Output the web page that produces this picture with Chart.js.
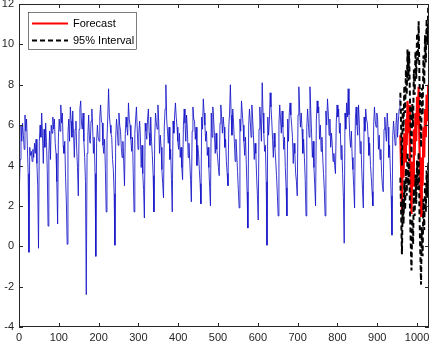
<!DOCTYPE html>
<html><head><meta charset="utf-8">
<script src="https://cdn.jsdelivr.net/npm/chart.js@4/dist/chart.umd.min.js"></script>
<style>html,body{margin:0;padding:0;background:#fff;}canvas{display:block;}</style>
</head><body>
<canvas id="c" width="430" height="346"></canvas>
<script>
// ---- data ----
const histStart = 1;
const histStep = 2;
const histValues = [
 2.9, 4.3, 6.0, 5.2, 6.1, 5.5, 4.8, 6.5, 5.7, 6.3, 5.0, 3.6,
 -0.3, 4.9, 4.5, 4.7, 4.2, 4.8, 4.4, 5.1, 4.6, 5.3, 4.1, 3.0,
 -0.1, 5.2, 6.0, 5.4, 6.6, 5.5, 4.1, 5.8, 4.9, 6.1, 5.2, 3.8,
 1.0, 4.6, 5.7, 4.3, 6.0, 5.6, 6.4, 5.8, 6.3, 5.1, 4.6, 3.2,
 1.1, 5.4, 6.3, 5.7, 7.0, 6.1, 6.6, 5.0, 4.6, 5.2, 3.4, 2.2,
 0.1, 5.6, 6.3, 5.2, 6.9, 6.2, 5.4, 6.7, 5.6, 4.4, 5.8, 6.2, 4.8, 3.9,
 2.5, 5.8, 6.8, 7.2, 6.1, 5.8, 6.6, 5.2, 4.4, 3.2,
 -2.4, 4.6, 5.5, 6.5, 5.3, 5.1, 6.2, 6.8, 5.9, 4.6, 5.4, 3.6,
 -0.5, 5.2, 6.0, 5.4, 5.2, 6.4, 7.0, 6.2, 6.1, 5.0, 4.6, 5.3, 3.8,
 1.7, 5.3, 6.4, 7.8, 6.5, 6.0, 5.6, 5.4, 4.3, 3.8, 2.6,
 0.05, 5.4, 6.3, 5.8, 5.0, 6.6, 6.0, 5.7, 4.9, 4.4, 5.2, 4.2,
 3.0, 5.6, 6.4, 5.9, 5.5, 7.1, 6.3, 6.0, 5.3, 4.7, 5.4, 3.6,
 1.7, 5.6, 6.3, 6.9, 5.8, 4.8, 5.6, 6.2, 5.4, 3.9, 5.0, 3.6, 2.8,
 1.4, 6.1, 5.7, 5.3, 6.3, 6.8, 5.6, 5.0, 6.4, 5.2, 4.5, 3.5,
 1.7, 5.4, 6.6, 6.1, 5.8, 7.0, 6.2, 4.6, 5.5, 4.9, 3.8, 3.1,
 2.4, 5.9, 6.8, 8.0, 6.3, 5.7, 5.1, 5.9, 4.3, 4.8, 3.3,
 1.7, 6.2, 5.6, 6.5, 7.1, 6.4, 5.9, 5.2, 4.8, 5.6, 4.4, 4.9, 3.9,
 3.3, 6.0, 6.8, 6.1, 5.2, 6.5, 5.8, 4.4, 5.1, 4.2, 3.3,
 2.2, 5.7, 6.9, 6.3, 6.2, 5.3, 5.9, 4.0, 5.0, 4.6, 3.8, 3.1,
 2.1, 6.4, 5.8, 7.3, 6.6, 6.0, 5.2, 5.7, 4.5, 4.9, 3.9, 2.9,
 2.0, 6.6, 5.4, 6.9, 6.3, 5.5, 4.6, 5.6, 4.8, 4.4, 3.9,
 3.5, 6.1, 7.0, 6.4, 5.6, 6.4, 5.9, 4.9, 5.3, 4.2, 3.6,
 3.0, 5.9, 6.6, 8.0, 6.5, 5.5, 6.8, 6.1, 5.2, 4.2, 5.3, 4.6, 3.7, 2.8,
 1.9, 6.3, 5.7, 7.2, 6.6, 6.0, 5.2, 4.5, 5.4, 4.1, 2.7,
 0.9, 6.0, 6.8, 6.2, 5.4, 7.0, 6.3, 5.5, 4.3, 5.1, 4.6, 3.4, 2.5,
 1.3, 5.8, 6.9, 6.1, 5.2, 8.1, 6.6, 5.6, 4.7, 5.0, 3.2,
 0.05, 6.4, 5.5, 6.2, 7.6, 6.9, 6.2, 5.3, 4.4, 5.6, 4.9, 4.2, 3.5, 2.6,
 1.5, 6.0, 7.0, 6.3, 5.6, 6.7, 5.9, 4.8, 5.4, 3.9, 2.9,
 1.5, 6.3, 5.2, 6.6, 7.1, 6.5, 6.0, 5.4, 4.1, 5.1, 4.6, 3.6, 3.2,
 2.5, 6.5, 7.9, 6.8, 5.9, 6.6, 5.8, 4.6, 5.3, 4.4, 3.3,
 1.5, 5.9, 6.8, 6.1, 5.4, 7.9, 6.7, 5.6, 4.4, 5.2, 3.9, 3.0,
 2.0, 6.2, 7.2, 6.6, 6.9, 5.3, 6.0, 4.7, 5.4, 4.4, 3.6, 2.8,
 1.5, 6.7, 6.0, 7.3, 6.6, 5.5, 6.3, 4.9, 5.6, 5.0, 4.2, 4.6, 4.0,
 3.6, 6.1, 7.0, 6.4, 6.8, 5.6, 6.1, 4.3, 5.0, 3.6, 2.4,
 0.15, 6.6, 5.8, 7.1, 6.4, 7.8, 6.5, 5.4, 4.9, 5.7, 4.4, 3.8, 2.9,
 1.9, 6.3, 6.9, 6.0, 5.5, 7.0, 6.1, 4.6, 5.2, 3.8, 2.8,
 1.9, 6.4, 5.7, 6.8, 6.3, 6.1, 5.4, 4.5, 5.1, 4.0, 3.4, 2.7,
 2.0, 6.0, 6.9, 6.2, 5.9, 6.6, 6.3, 4.8, 5.5, 4.3, 4.8, 3.6, 3.0,
 2.7, 5.8, 6.4, 5.7, 5.2, 6.6, 5.9, 4.4, 5.0, 3.7, 2.5,
 0.55, 5.5, 6.2, 5.6, 5.0, 6.0, 6.6, 5.4, 6.2, 6.8, 7.3
];
const fcStart = 958;
const fcStep = 2;
const forecastValues = [5.5, 3.8, 1.8, 4.6, 3.4, 5.6, 4.2, 6.3, 5.0, 7.2, 5.6, 7.0, 4.8, 3.0, 1.6, 4.2, 3.0, 5.8, 4.5, 6.6, 5.2, 7.4, 6.0, 7.9, 5.0, 3.2, 1.5, 4.4, 3.0, 5.9, 4.4, 6.8, 5.4, 7.5, 6.2, 8.0, 7.6];
const upperValues = [7.60, 5.95, 4.00, 6.85, 5.70, 7.95, 6.60, 8.75, 7.50, 9.75, 8.20, 9.65, 7.50, 5.75, 4.40, 7.05, 5.90, 8.75, 7.50, 9.65, 8.30, 10.55, 9.20, 11.15, 8.30, 6.55, 4.90, 7.85, 6.50, 9.45, 8.00, 10.45, 9.10, 11.25, 10.00, 11.85, 11.50];
const lowerValues = [3.40, 1.65, -0.40, 2.35, 1.10, 3.25, 1.80, 3.85, 2.50, 4.65, 3.00, 4.35, 2.10, 0.25, -1.20, 1.35, 0.10, 2.85, 1.50, 3.55, 2.10, 4.25, 2.80, 4.65, 1.70, -0.15, -1.90, 0.95, -0.50, 2.35, 0.80, 3.15, 1.70, 3.75, 2.40, 4.15, 3.70];
const xTicks = [0, 100, 200, 300, 400, 500, 600, 700, 800, 900, 1000];
const yTicks = [-4, -2, 0, 2, 4, 6, 8, 10, 12];
const legendLabels = ['Forecast', '95% Interval'];

// ---- build ----
const toPts = (start, step, vals) => vals.map((v, i) => ({x: start + i * step, y: v}));

Chart.defaults.font.family = '"Liberation Sans", Arial, Helvetica, sans-serif';
Chart.defaults.font.size = 11;
Chart.defaults.color = '#262626';

const framePlugin = {
  id: 'frame',
  afterDatasetsDraw(chart) {
    const {ctx, chartArea: a, scales: {x, y}} = chart;
    ctx.save();
    ctx.strokeStyle = '#262626';
    ctx.lineWidth = 1;
    ctx.setLineDash([]);
    ctx.beginPath();
    x.ticks.forEach(t => {
      const p = Math.round(x.getPixelForValue(t.value)) + 0.5;
      ctx.moveTo(p, a.bottom); ctx.lineTo(p, a.bottom - 4);
      ctx.moveTo(p, a.top); ctx.lineTo(p, a.top + 4);
    });
    y.ticks.forEach(t => {
      const p = Math.round(y.getPixelForValue(t.value)) + 0.5;
      ctx.moveTo(a.left, p); ctx.lineTo(a.left + 4, p);
      ctx.moveTo(a.right, p); ctx.lineTo(a.right - 4, p);
    });
    ctx.stroke();
    ctx.strokeRect(Math.round(a.left) + 0.5, Math.round(a.top) + 0.5,
                   Math.round(a.right - a.left) - 1, Math.round(a.bottom - a.top) - 1);

    // legend box
    const lx = 28.5, ly = 12.5, lw = 108, lh = 37;
    ctx.fillStyle = '#ffffff';
    ctx.fillRect(lx, ly, lw, lh);
    ctx.strokeStyle = '#262626';
    ctx.lineWidth = 0.6;
    ctx.strokeRect(lx, ly, lw, lh);
    const dsF = chart.data.datasets[1];
    const dsI = chart.data.datasets[2];
    const rows = [{ds: dsF, yy: 23.5, label: legendLabels[0]}, {ds: dsI, yy: 40.5, label: legendLabels[1]}];
    ctx.font = '11px "Liberation Sans", Arial, sans-serif';
    ctx.textBaseline = 'middle';
    ctx.textAlign = 'left';
    rows.forEach(r => {
      ctx.beginPath();
      ctx.strokeStyle = r.ds.borderColor;
      ctx.lineWidth = r.ds.borderWidth;
      ctx.setLineDash(r.ds.borderDash || []);
      ctx.moveTo(32, r.yy); ctx.lineTo(68, r.yy);
      ctx.stroke();
      ctx.setLineDash([]);
      ctx.fillStyle = '#000000';
      ctx.fillText(r.label, 73, r.yy + 0.5);
    });
    ctx.restore();
  }
};

new Chart(document.getElementById('c'), {
  type: 'line',
  data: {
    datasets: [
      {label: 'Observed', data: toPts(histStart, histStep, histValues), borderColor: 'rgb(20,20,200)', borderWidth: 0.85, pointRadius: 0, order: 4},
      {label: legendLabels[0], data: toPts(fcStart, fcStep, forecastValues), borderColor: '#ff0000', borderWidth: 2.2, pointRadius: 0, order: 3},
      {label: legendLabels[1], data: toPts(fcStart, fcStep, upperValues), borderColor: '#000000', borderWidth: 2, borderDash: [5, 3], pointRadius: 0, order: 1},
      {label: 'Lower', data: toPts(fcStart, fcStep, lowerValues), borderColor: '#000000', borderWidth: 2, borderDash: [5, 3], pointRadius: 0, order: 2}
    ]
  },
  options: {
    responsive: false,
    devicePixelRatio: 1,
    animation: false,
    events: [],
    layout: {padding: {top: 4, right: 1, left: 0, bottom: 0}},
    plugins: {legend: {display: false}, tooltip: {enabled: false}},
    elements: {line: {tension: 0}},
    scales: {
      x: {
        type: 'linear', min: 0, max: 1030,
        grid: {display: false, drawTicks: false},
        border: {display: false},
        ticks: {padding: 4, maxRotation: 0, autoSkip: false, includeBounds: false, callback: v => String(v)},
        afterBuildTicks: s => { s.ticks = xTicks.map(v => ({value: v})); },
        afterFit: s => { s.height = 19; s.paddingLeft = 0; s.paddingRight = 0; }
      },
      y: {
        type: 'linear', min: -4, max: 12,
        grid: {display: false, drawTicks: false},
        border: {display: false},
        ticks: {padding: 5, autoSkip: false, includeBounds: false, callback: v => String(v)},
        afterBuildTicks: s => { s.ticks = yTicks.map(v => ({value: v})); },
        afterFit: s => { s.width = 19; s.paddingTop = 0; s.paddingBottom = 0; }
      }
    }
  },
  plugins: [framePlugin]
});
</script>
</body></html>
